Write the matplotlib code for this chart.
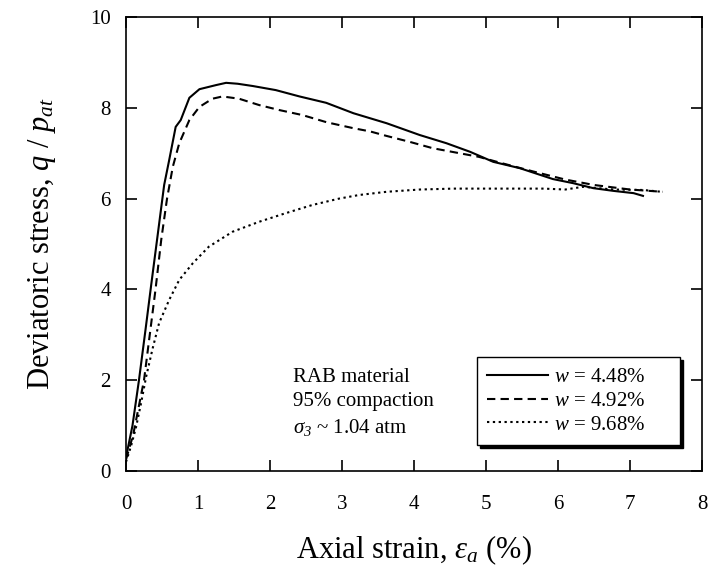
import matplotlib
matplotlib.use("Agg")
import matplotlib.pyplot as plt

plt.rcParams['font.family'] = ['Liberation Serif', 'DejaVu Serif']
plt.rcParams['mathtext.fontset'] = 'custom'
plt.rcParams['mathtext.rm'] = 'Liberation Serif'
plt.rcParams['mathtext.it'] = 'Liberation Serif:italic'
plt.rcParams['mathtext.bf'] = 'Liberation Serif:bold'
plt.rcParams['mathtext.cal'] = 'Liberation Serif:italic'

# w = 4.48 %
strain_1 = [0, 0.09, 0.18, 0.27, 0.35, 0.44, 0.53, 0.60, 0.69, 0.76, 0.88, 1.02, 1.25, 1.39,
            1.55, 1.76, 2.08, 2.41, 2.78, 3.16, 3.62, 4.08, 4.45, 4.78, 5.10, 5.47, 5.93,
            6.21, 6.49, 6.77, 7.05, 7.18]
q_1 = [0.30, 1.0, 2.0, 3.1, 4.1, 5.2, 6.3, 6.85, 7.58, 7.73, 8.22, 8.41, 8.50, 8.55,
       8.53, 8.48, 8.39, 8.25, 8.11, 7.88, 7.66, 7.40, 7.22, 7.03, 6.81, 6.67, 6.43,
       6.34, 6.23, 6.17, 6.12, 6.06]

# w = 4.92 %
strain_2 = [0, 0.10, 0.25, 0.33, 0.41, 0.49, 0.57, 0.65, 0.74, 0.88, 1.02, 1.20, 1.34, 1.57,
            1.85, 2.13, 2.45, 2.79, 3.16, 3.39, 3.62, 3.94, 4.26, 4.63, 4.90, 5.22, 5.65,
            6.10, 6.50, 7.00, 7.45]
q_2 = [0.25, 0.8, 2.0, 3.0, 4.0, 5.1, 6.0, 6.7, 7.22, 7.73, 8.02, 8.20, 8.25, 8.20,
       8.06, 7.95, 7.84, 7.68, 7.55, 7.48, 7.38, 7.25, 7.11, 7.00, 6.92, 6.78, 6.60,
       6.42, 6.30, 6.20, 6.15]

# w = 9.68 %
strain_3 = [0, 0.07, 0.14, 0.21, 0.28, 0.37, 0.46, 0.60, 0.74, 0.93, 1.15, 1.48, 1.85, 2.22,
            2.59, 2.96, 3.24, 3.62, 4.08, 4.55, 5.00, 5.47, 5.80, 6.10, 6.35, 6.77, 7.18, 7.44]
q_3 = [0.20, 0.55, 0.97, 1.5, 2.08, 2.7, 3.26, 3.77, 4.21, 4.58, 4.94, 5.27, 5.49, 5.68,
       5.86, 6.00, 6.08, 6.15, 6.20, 6.22, 6.22, 6.22, 6.22, 6.20, 6.26, 6.20, 6.19, 6.15]

labels = [r'$w$ = 4.48%', r'$w$ = 4.92%', r'$w$ = 9.68%']
x_ticks = [0, 1, 2, 3, 4, 5, 6, 7, 8]
y_ticks = [0, 2, 4, 6, 8, 10]

fig = plt.figure(figsize=(7.12, 5.71), dpi=100)
ax = fig.add_axes([126/712, 1-471/571, 576/712, 454/571])

ax.plot(strain_1, q_1, color='black', lw=1.5, ls='-', label=labels[0])
ax.plot(strain_2, q_2, color='black', lw=1.5, ls=(0, (4, 2.5)), label=labels[1])
ax.plot(strain_3, q_3, color='black', lw=1.5, ls=(0, (1.1, 1.7)), label=labels[2])

ax.set_xlim(0, 8)
ax.set_ylim(0, 10)
ax.set_xticks(x_ticks)
ax.set_yticks(y_ticks)
ax.tick_params(direction='in', length=8, width=1.2, top=True, right=True,
               labelsize=15)
ax.tick_params(axis='x', pad=17)
ax.tick_params(axis='y', pad=11)
for s in ax.spines.values():
    s.set_linewidth(1.2)

ax.set_xlabel(r'Axial strain, $\varepsilon_a$ (%)', fontsize=22, labelpad=14)
ax.set_ylabel(r'Deviatoric stress, $q$ / $p_{at}$', fontsize=22, labelpad=23)

ax.text(2.32, 2.07, 'RAB material', fontsize=15, va='center', ha='left')
ax.text(2.32, 1.52, '95% compaction', fontsize=15, va='center', ha='left')
ax.text(2.32, 0.95, r'$\sigma_{\mathcal{3}}$ ~ 1.04 atm', fontsize=15, va='center', ha='left')

leg = ax.legend(loc='lower left', bbox_to_anchor=(0.609, 0.057, 0.353, 0.196),
                mode='expand', fontsize=15, frameon=True, fancybox=False,
                shadow={'color': 'black', 'alpha': 1.0},
                handlelength=2.9, handletextpad=0.3, labelspacing=0.2,
                borderpad=0.5, borderaxespad=0)
leg.get_frame().set_edgecolor('black')
leg.get_frame().set_linewidth(1.0)

fig.savefig('out.png', dpi=100)
